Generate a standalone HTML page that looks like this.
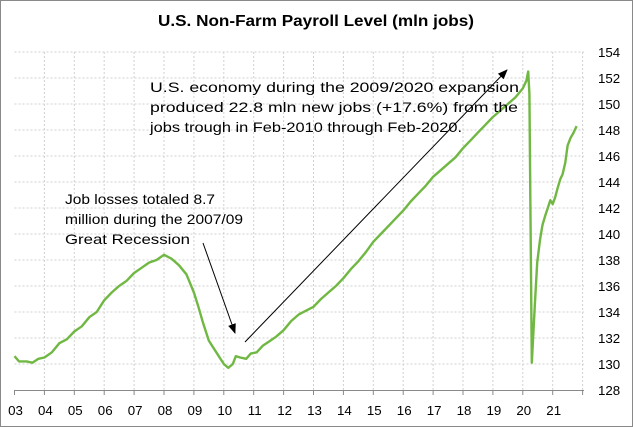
<!DOCTYPE html>
<html><head><style>
html,body{margin:0;padding:0;background:#fff;}
svg{display:block;font-family:"Liberation Sans",Arial,sans-serif;}
</style></head><body>
<svg id="s" width="633" height="427" xmlns="http://www.w3.org/2000/svg">
<rect x="0.5" y="0.5" width="632" height="426" fill="#fff" stroke="#898989"/>
<text x="158" y="26" textLength="316" lengthAdjust="spacingAndGlyphs" font-size="15.5" font-weight="bold" fill="#000">U.S. Non-Farm Payroll Level (mln jobs)</text>
<g id="grid" stroke="#d0d0d0" stroke-dasharray="2,2" stroke-width="1"></g>
<g id="ax"></g>
<path id="line" fill="none" stroke="#70b843" stroke-width="2.4" stroke-linejoin="round"/>
<g font-size="14" fill="#000">
<text x="150" y="92" textLength="369" lengthAdjust="spacingAndGlyphs">U.S. economy during the 2009/2020 expansion</text>
<text x="150" y="112" textLength="368" lengthAdjust="spacingAndGlyphs">produced 22.8 mln new jobs (+17.6%) from the</text>
<text x="150" y="132" textLength="312" lengthAdjust="spacingAndGlyphs">jobs trough in Feb-2010 through Feb-2020.</text>
<text x="65" y="204" textLength="150" lengthAdjust="spacingAndGlyphs">Job losses totaled 8.7</text>
<text x="65" y="224" textLength="178" lengthAdjust="spacingAndGlyphs">million during the 2007/09</text>
<text x="65" y="244" textLength="125" lengthAdjust="spacingAndGlyphs">Great Recession</text>
</g>
<defs><marker id="ar" markerWidth="10" markerHeight="8" refX="9" refY="4" orient="auto" markerUnits="userSpaceOnUse"><path d="M0,0 L10,4 L0,8 z" fill="#000"/></marker></defs>
<line x1="203" y1="243" x2="235" y2="333" stroke="#000" stroke-width="1" marker-end="url(#ar)"/>
<line x1="245" y1="342" x2="507" y2="70" stroke="#000" stroke-width="1" marker-end="url(#ar)"/>
</svg>
<script>
var X=function(t){return 14.5+(t-2003)*29.9;},Y=function(v){return 390-(v-128)*13;};
var g=document.getElementById('grid'),ax=document.getElementById('ax'),ns="http://www.w3.org/2000/svg";
function el(p,tag,a,txt){var e=document.createElementNS(ns,tag);for(var k in a)e.setAttribute(k,a[k]);if(txt)e.textContent=txt;p.appendChild(e);return e;}
for(var v=130;v<=154;v+=2){el(g,'line',{x1:14.5,x2:584,y1:Y(v),y2:Y(v)});}
for(var y=2004;y<=2022;y++){el(g,'line',{x1:X(y),x2:X(y),y1:52,y2:390});}
el(ax,'line',{x1:14.5,x2:584,y1:390.5,y2:390.5,stroke:'#898989'});
for(var y=2003;y<=2022;y++){el(ax,'line',{x1:X(y),x2:X(y),y1:390,y2:395,stroke:'#898989'});}
for(var y=2003;y<=2021;y++){el(ax,'text',{x:X(y)+1,y:415,'text-anchor':'middle','font-size':'13.3'},(''+y).slice(2));}
for(var v=128;v<=154;v+=2){el(ax,'text',{x:598,y:Y(v)+5,'font-size':'13.3'},''+v);}
var d=[[2003,130.6],[2003.15,130.2],[2003.4,130.2],[2003.6,130.1],[2003.8,130.4],[2004,130.5],[2004.25,130.9],[2004.5,131.6],[2004.75,131.9],[2005,132.5],[2005.25,132.9],[2005.5,133.6],[2005.75,134.0],[2006,134.9],[2006.25,135.5],[2006.5,136.0],[2006.75,136.4],[2007,137.0],[2007.25,137.4],[2007.5,137.8],[2007.75,138.0],[2008,138.4],[2008.25,138.1],[2008.5,137.6],[2008.75,136.9],[2009,135.5],[2009.15,134.4],[2009.3,133.2],[2009.5,131.8],[2009.75,130.9],[2010,130.0],[2010.15,129.7],[2010.3,130.0],[2010.4,130.6],[2010.55,130.5],[2010.75,130.4],[2010.9,130.8],[2011.1,130.9],[2011.3,131.4],[2011.5,131.7],[2011.75,132.1],[2012,132.6],[2012.25,133.3],[2012.5,133.8],[2012.75,134.1],[2013,134.4],[2013.25,135.0],[2013.5,135.5],[2013.75,136.0],[2014,136.6],[2014.25,137.3],[2014.5,137.9],[2014.75,138.6],[2015,139.4],[2015.25,140.0],[2015.5,140.6],[2015.75,141.2],[2016,141.8],[2016.25,142.5],[2016.5,143.1],[2016.75,143.7],[2017,144.4],[2017.25,144.9],[2017.5,145.4],[2017.75,145.9],[2018,146.6],[2018.25,147.2],[2018.5,147.8],[2018.75,148.4],[2019,149.0],[2019.25,149.5],[2019.5,150.0],[2019.75,150.5],[2020,151.2],[2020.12,151.8],[2020.18,152.5],[2020.22,150.8],[2020.3,130.1],[2020.4,134.5],[2020.48,137.8],[2020.58,139.6],[2020.66,140.7],[2020.75,141.4],[2020.85,142.1],[2020.92,142.6],[2021.0,142.3],[2021.08,142.8],[2021.16,143.5],[2021.25,144.2],[2021.33,144.6],[2021.42,145.5],[2021.5,146.8],[2021.6,147.4],[2021.7,147.8],[2021.8,148.3]];
document.getElementById('line').setAttribute('d',d.map(function(p,i){return (i?'L':'M')+X(p[0]).toFixed(1)+','+Y(p[1]).toFixed(1);}).join(''));
</script>
</body></html>
